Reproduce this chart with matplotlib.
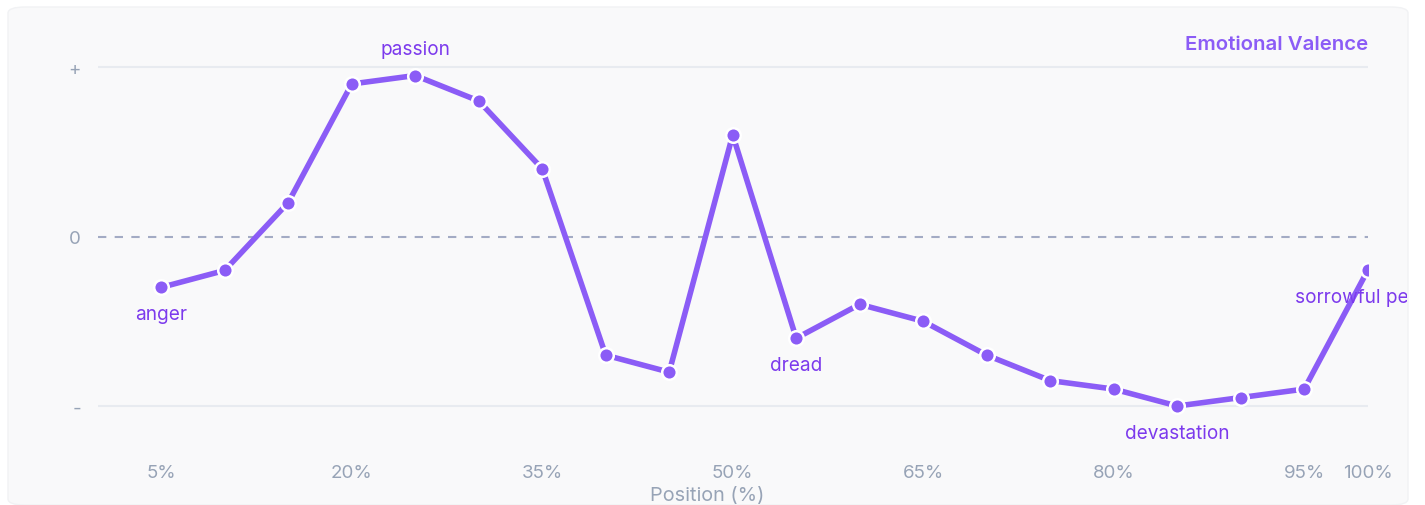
import matplotlib
matplotlib.use("Agg")
import matplotlib.pyplot as plt
from matplotlib.patches import FancyBboxPatch
from matplotlib.transforms import Bbox

positions = [5, 10, 15, 20, 25, 30, 35, 40, 45, 50, 55, 60, 65, 70, 75, 80, 85, 90, 95, 100]
valence = [-0.30, -0.20, 0.20, 0.90, 0.95, 0.80, 0.40, -0.70, -0.80, 0.60,
           -0.60, -0.40, -0.50, -0.70, -0.85, -0.90, -1.00, -0.95, -0.90, -0.20]
labels = {0: ("anger", "below"), 4: ("passion", "above"), 10: ("dread", "below"),
          16: ("devastation", "below"), 19: ("sorrowful peace", "below")}
xticks = [5, 20, 35, 50, 65, 80, 95, 100]
xticklabels = ["5%", "20%", "35%", "50%", "65%", "80%", "95%", "100%"]
yticks = [1, 0, -1]
yticklabels = ["+", "0", "-"]

plt.rcParams['font.family'] = ['Inter', 'DejaVu Sans']

W, H = 1425, 506
fig = plt.figure(figsize=(W / 100, H / 100), dpi=100)
fig.patch.set_facecolor("white")

card = FancyBboxPatch((8 / W, 0 / H), (1400) / W, (498) / H,
                      boxstyle="round,pad=0,rounding_size=0.012",
                      transform=fig.transFigure, facecolor="#f9f9fa",
                      edgecolor="#f1f2f4", linewidth=1, zorder=-5)
fig.patches.append(card)

left = 97.7 / W
width = (1367.7 - 97.7) / W
ax = fig.add_axes([left, (H - 449.4) / H, width, 423.75 / H])
ax.set_zorder(2)
ax.set_facecolor("none")
ax.set_xlim(0, 100)
ax.set_ylim(-1.25, 1.25)
for s in ax.spines.values():
    s.set_visible(False)

ax.axhline(1, color="#e8ebf0", lw=1.5, zorder=1)
ax.axhline(-1, color="#e8ebf0", lw=1.5, zorder=1)
ax.axhline(0, color="#a3abc4", lw=1.5, ls=(0, (4, 4)), zorder=1)

ax.plot(positions, valence, color="#8b5cf6", lw=4, zorder=3,
        marker="o", markersize=10.5, markerfacecolor="#8b5cf6",
        markeredgecolor="white", markeredgewidth=1.8, solid_joinstyle="round")

ax.set_xticks(xticks)
ax.set_xticklabels(xticklabels)
ax.set_yticks(yticks)
ax.set_yticklabels(yticklabels)
ax.tick_params(axis="x", length=0, pad=11, labelsize=13.5, labelcolor="#97a3b6")
ax.tick_params(axis="y", length=0, pad=12, labelsize=13.5, labelcolor="#97a3b6")

clip = Bbox.from_extents(0, 0, 1407, H)
for i, (txt, where) in labels.items():
    dy = 26 if where == "above" else -27
    t = ax.annotate(txt, (positions[i], valence[i]), xytext=(0, dy),
                    textcoords="offset pixels", ha="center", va="center",
                    fontsize=13.7, color="#7c3aed", zorder=4, annotation_clip=False)
    t.set_clip_box(clip)
    t.set_clip_on(True)

fig.text(1367.7 / W, 1 - 45 / H, "Emotional Valence", ha="right", va="center",
         fontsize=14.7, fontweight="semibold", color="#8b5cf6")
fig.text(707 / W, 1 - 496 / H, "Position (%)", ha="center", va="center",
         fontsize=14.3, color="#97a3b6")

fig.savefig("out.png", dpi=100)
